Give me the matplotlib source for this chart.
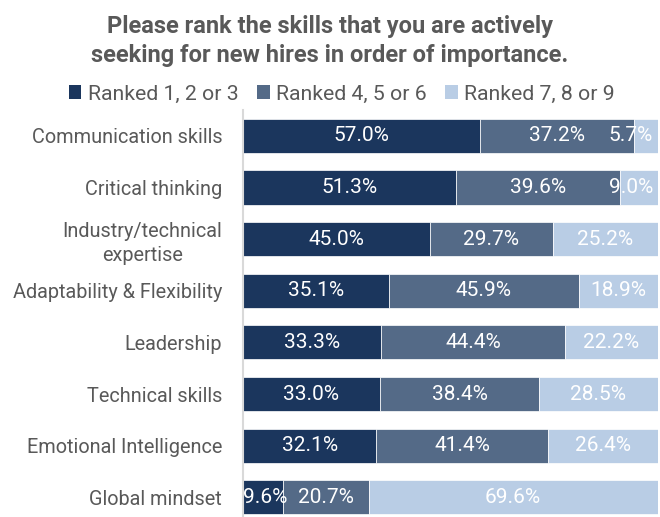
import matplotlib
matplotlib.use("Agg")
import matplotlib.pyplot as plt
from matplotlib.patches import Patch

plt.rcParams["font.family"] = ["Roboto", "DejaVu Sans"]

categories = [
    "Communication skills",
    "Critical thinking",
    "Industry/technical\nexpertise",
    "Adaptability & Flexibility",
    "Leadership",
    "Technical skills",
    "Emotional Intelligence",
    "Global mindset",
]
ranked_1_3 = [57.0, 51.3, 45.0, 35.1, 33.3, 33.0, 32.1, 9.6]
ranked_4_6 = [37.2, 39.6, 29.7, 45.9, 44.4, 38.4, 41.4, 20.7]
ranked_7_9 = [5.7, 9.0, 25.2, 18.9, 22.2, 28.5, 26.4, 69.6]
series_names = ["Ranked 1, 2 or 3", "Ranked 4, 5 or 6", "Ranked 7, 8 or 9"]
colors = ["#1b365d", "#546a87", "#b9cde5"]
title = "Please rank the skills that you are actively\nseeking for new hires in order of importance."

text_gray = "#595959"

W, H = 660, 517
fig = plt.figure(figsize=(W / 100, H / 100), dpi=100)
ax_left, ax_right, ax_top, ax_bottom = 243, 658, 110, 516
ax = fig.add_axes([ax_left / W, 1 - ax_bottom / H,
                   (ax_right - ax_left) / W, (ax_bottom - ax_top) / H])

series = [ranked_1_3, ranked_4_6, ranked_7_9]
ypos = list(range(len(categories)))
lefts = [0.0] * len(categories)
label_items = []
for vals, col in zip(series, colors):
    ax.barh(ypos, vals, left=lefts, height=0.66, color=col,
            edgecolor="white", linewidth=0.5)
    for i, v in enumerate(vals):
        label_items.append((lefts[i] + v / 2, i, f"{v:.1f}%"))
    lefts = [l + v for l, v in zip(lefts, vals)]

ax.set_xlim(0, 100)
ax.set_ylim(7.36, -0.5)
ax.set_yticks(ypos)
ax.set_yticklabels(categories, fontsize=14.3, color=text_gray, ma="center",
                   linespacing=1.3)
ax.tick_params(axis="y", length=0, pad=15)
ax.set_xticks([])
for side in ["top", "right", "bottom"]:
    ax.spines[side].set_visible(False)
ax.spines["left"].set_color("#d9d9d9")
ax.spines["left"].set_linewidth(1.5)

# value labels, kept inside the plotting area
fig.canvas.draw()
renderer = fig.canvas.get_renderer()
right_limit = 98.8
for x, y, s in label_items:
    t = ax.text(x, y, s, ha="center", va="center", color="white", fontsize=15)
    bb = t.get_window_extent(renderer=renderer)
    inv = ax.transData.inverted()
    x0 = inv.transform((bb.x0, 0))[0]
    x1 = inv.transform((bb.x1, 0))[0]
    if x1 > right_limit:
        t.set_x(x - (x1 - right_limit))
    elif x0 < 0:
        t.set_x(x - x0)

fig.text(0.5, 1 - 41 / H, title, ha="center", va="center", fontsize=17,
         fontweight="bold", color=text_gray, linespacing=1.3)

handles = [Patch(facecolor=c, edgecolor="none") for c in colors]
fig.legend(handles, series_names, loc="center", bbox_to_anchor=(0.518, 1 - 94 / H),
           ncol=3, frameon=False, fontsize=15.3, labelcolor=text_gray,
           handlelength=0.6, handleheight=0.6, handletextpad=0.3,
           columnspacing=0.87, borderpad=0, borderaxespad=0)

fig.savefig("out.png", dpi=100)
